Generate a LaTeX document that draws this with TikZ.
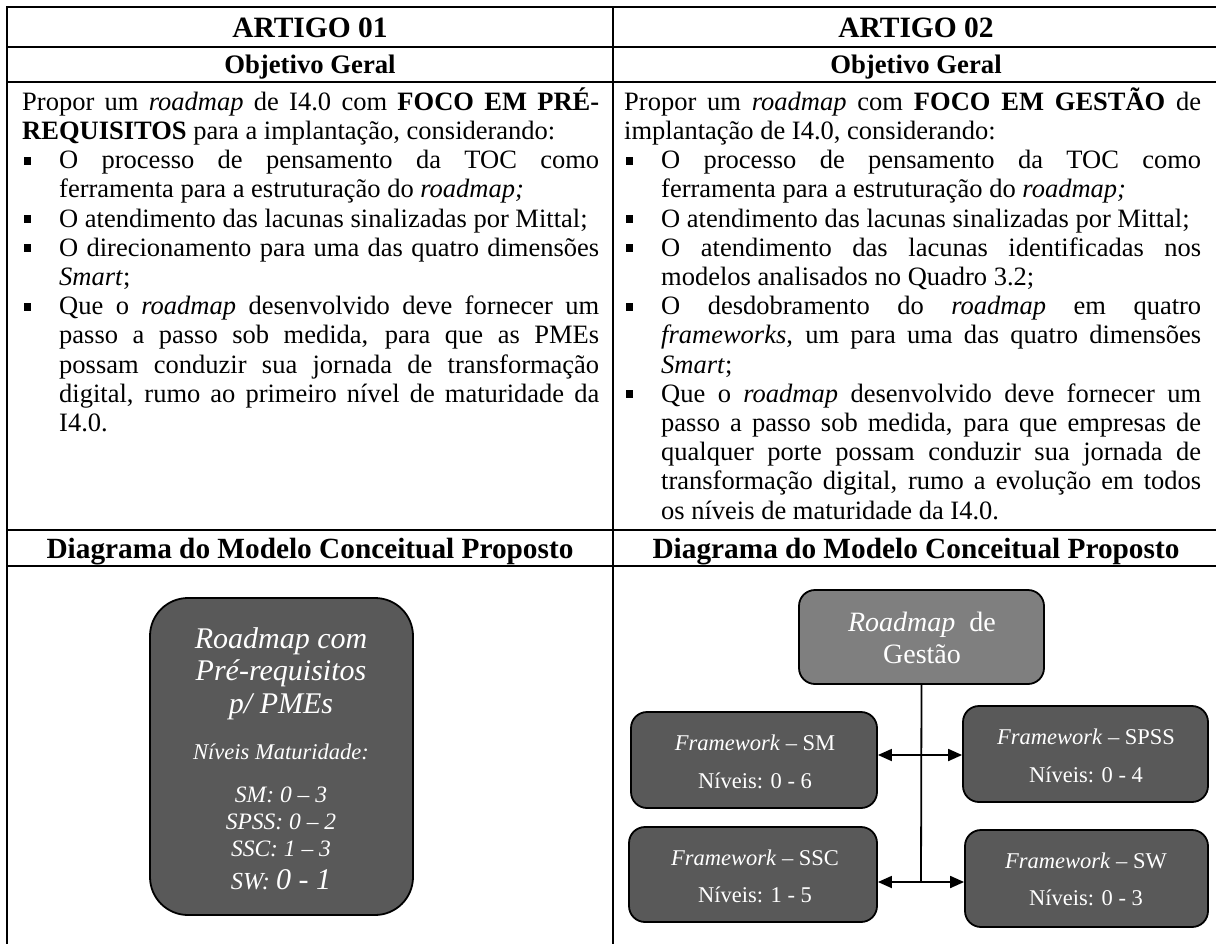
\documentclass[tikz,border=0pt]{standalone}
\usepackage{fontspec}
\setmainfont{Liberation Serif}
\usetikzlibrary{arrows.meta}
\definecolor{dk}{HTML}{595959}
\definecolor{md}{HTML}{7F7F7F}
\newlength\cw \setlength\cw{577pt}
\newlength\bw \setlength\bw{37pt}
\newcommand\myLs{\rule[-6.6pt]{0pt}{29.2pt}}
\newcommand\mybsq{\rule[4pt]{7pt}{8pt}}
\newcommand\myJL[1]{\myLs\makebox[\cw][s]{#1}}
\newcommand\myLL[1]{\myLs #1}
\newcommand\myBJ[1]{\myLs\makebox[\bw][l]{\hspace*{2pt}\mybsq}\makebox[\dimexpr\cw-\bw\relax][s]{#1}}
\newcommand\myBL[1]{\myLs\makebox[\bw][l]{\hspace*{2pt}\mybsq}#1}
\newcommand\myIJ[1]{\myLs\hspace*{\bw}\makebox[\dimexpr\cw-\bw\relax][s]{#1}}
\newcommand\myIL[1]{\myLs\hspace*{\bw}#1}
\begin{document}
\begin{tikzpicture}[x=1pt,y=-1pt,
 tbl/.style={line width=2.2pt, line cap=rect},
 hd/.style={font=\fontsize{29.5}{33}\selectfont\bfseries, anchor=base, inner sep=0},
 sub/.style={font=\fontsize{26.7}{30}\selectfont\bfseries, anchor=base, inner sep=0},
 dia/.style={font=\fontsize{29.3}{32}\selectfont\bfseries, anchor=base, inner sep=0},
 body/.style={font=\fontsize{26.5}{29.2}\selectfont, anchor=north west, inner sep=0, align=left},
 bigbox/.style={draw, line width=1.8pt, fill=dk, rounded corners=38pt, minimum width=263pt, minimum height=317pt, inner sep=0},
 gbox/.style={draw, line width=1.8pt, fill=md, rounded corners=16pt, inner sep=0},
 fwbox/.style={draw, line width=1.8pt, fill=dk, rounded corners=16pt, inner sep=0},
 wt/.style={text=white, anchor=base, inner sep=0},
 dar/.style={line width=1.8pt, {Triangle[length=14pt,width=12pt]}-{Triangle[length=14pt,width=12pt]}},
]
\clip (0,0) rectangle (1216,943);
\fill[white] (0,0) rectangle (1216,943);
% table rules
\draw[tbl] (7,7) -- (1230,7);
\draw[tbl] (7,47) -- (1230,47);
\draw[tbl] (7,82) -- (1230,82);
\draw[tbl] (7,530) -- (1230,530);
\draw[tbl] (7,566) -- (1230,566);
\draw[tbl] (7,7) -- (7,960);
\draw[tbl] (613,7) -- (613,960);
\draw[tbl] (1219,7) -- (1219,960);
% headers
\node[hd] (a1) at (310,37) {ARTIGO 01};
\node[hd] (a2) at (916,37) {ARTIGO 02};
\node[sub] (o1) at (310,73.5) {Objetivo Geral};
\node[sub] (o2) at (916,73.5) {Objetivo Geral};
\node[dia] (d1) at (310,558) {Diagrama do Modelo Conceitual Proposto};
\node[dia] (d2) at (916,558) {Diagrama do Modelo Conceitual Proposto};
% body text
\node[body] (t1) at (22,87.4) {%
\myJL{Propor um \textit{roadmap} de I4.0 com \textbf{FOCO EM PRÉ-}}\\
\myLL{\textbf{REQUISITOS} para a implantação, considerando:}\\
\myBJ{O processo de pensamento da TOC como}\\
\myIL{ferramenta para a estruturação do \textit{roadmap;}}\\
\myBL{O atendimento das lacunas sinalizadas por Mittal;}\\
\myBJ{O direcionamento para uma das quatro dimensões}\\
\myIL{\textit{Smart};}\\
\myBJ{Que o \textit{roadmap} desenvolvido deve fornecer um}\\
\myIJ{passo a passo sob medida, para que as PMEs}\\
\myIJ{possam conduzir sua jornada de transformação}\\
\myIJ{digital, rumo ao primeiro nível de maturidade da}\\
\myIL{I4.0.}};
\node[body] (t2) at (624,87.4) {%
\myJL{Propor um \textit{roadmap} com \textbf{FOCO EM GESTÃO} de}\\
\myLL{implantação de I4.0, considerando:}\\
\myBJ{O processo de pensamento da TOC como}\\
\myIL{ferramenta para a estruturação do \textit{roadmap;}}\\
\myBL{O atendimento das lacunas sinalizadas por Mittal;}\\
\myBJ{O atendimento das lacunas identificadas nos}\\
\myIL{modelos analisados no Quadro 3.2;}\\
\myBJ{O desdobramento do \textit{roadmap} em quatro}\\
\myIJ{\textit{frameworks}, um para uma das quatro dimensões}\\
\myIL{\textit{Smart};}\\
\myBJ{Que o \textit{roadmap} desenvolvido deve fornecer um}\\
\myIJ{passo a passo sob medida, para que empresas de}\\
\myIJ{qualquer porte possam conduzir sua jornada de}\\
\myIJ{transformação digital, rumo a evolução em todos}\\
\myIL{os níveis de maturidade da I4.0.}};
% left diagram
\node[bigbox] (rm1) at (281.5,756.5) {};
\begin{scope}[every node/.append style={wt}]
\node[font=\fontsize{30}{33}\selectfont\itshape] (r1) at (281,648) {Roadmap com};
\node[font=\fontsize{30}{33}\selectfont\itshape] (r2) at (281,680) {Pré-requisitos};
\node[font=\fontsize{30}{33}\selectfont\itshape] (r3) at (281,713) {p/ PMEs};
\node[font=\fontsize{22.5}{25}\selectfont\itshape] (r4) at (281,759) {Níveis Maturidade:};
\node[font=\fontsize{23.5}{26}\selectfont\itshape] (r5) at (281,802) {SM: 0 – 3};
\node[font=\fontsize{23.5}{26}\selectfont\itshape] (r6) at (281,829) {SPSS: 0 – 2};
\node[font=\fontsize{23.5}{26}\selectfont\itshape] (r7) at (281,856) {SSC: 1 – 3};
\node[font=\fontsize{24.5}{27}\selectfont\itshape] (r8) at (281,889) {SW: {\fontsize{30}{33}\selectfont 0 - 1}};
\end{scope}
% right diagram
\node[gbox, minimum width=245pt, minimum height=94pt] (rg) at (921.5,637) {};
\node[wt, font=\fontsize{28}{31}\selectfont] (g1) at (922,631) {\textit{Roadmap}\ \ de};
\node[wt, font=\fontsize{28}{31}\selectfont] (g2) at (922,663) {Gestão};
\node[fwbox, minimum width=246pt, minimum height=96pt] (sm) at (754,760) {};
\node[fwbox, minimum width=245pt, minimum height=96pt] (spss) at (1085.5,754) {};
\node[fwbox, minimum width=248pt, minimum height=95pt] (ssc) at (753,874.5) {};
\node[fwbox, minimum width=243pt, minimum height=97pt] (sw) at (1086.5,878.5) {};
\begin{scope}[every node/.append style={wt, font=\fontsize{22.5}{26}\selectfont}]
\node (sm1) at (755,750) {\textit{Framework} – SM};
\node (sm2) at (755,788) {Níveis: 0 - 6};
\node (sp1) at (1086,744) {\textit{Framework} – SPSS};
\node (sp2) at (1086,782) {Níveis: 0 - 4};
\node (sc1) at (755,865) {\textit{Framework} – SSC};
\node (sc2) at (755,902) {Níveis: 1 - 5};
\node (sw1) at (1086,868) {\textit{Framework} – SW};
\node (sw2) at (1086,905) {Níveis: 0 - 3};
\end{scope}
\coordinate (h1) at (921,755);
\coordinate (h2) at (921,882);
\draw[line width=1.8pt] (rg.south) -- (h2);
\draw[dar] (sm.east |- h1) -- (spss.west |- h1);
\draw[dar] (ssc.east |- h2) -- (sw.west |- h2);
\end{tikzpicture}
\end{document}
